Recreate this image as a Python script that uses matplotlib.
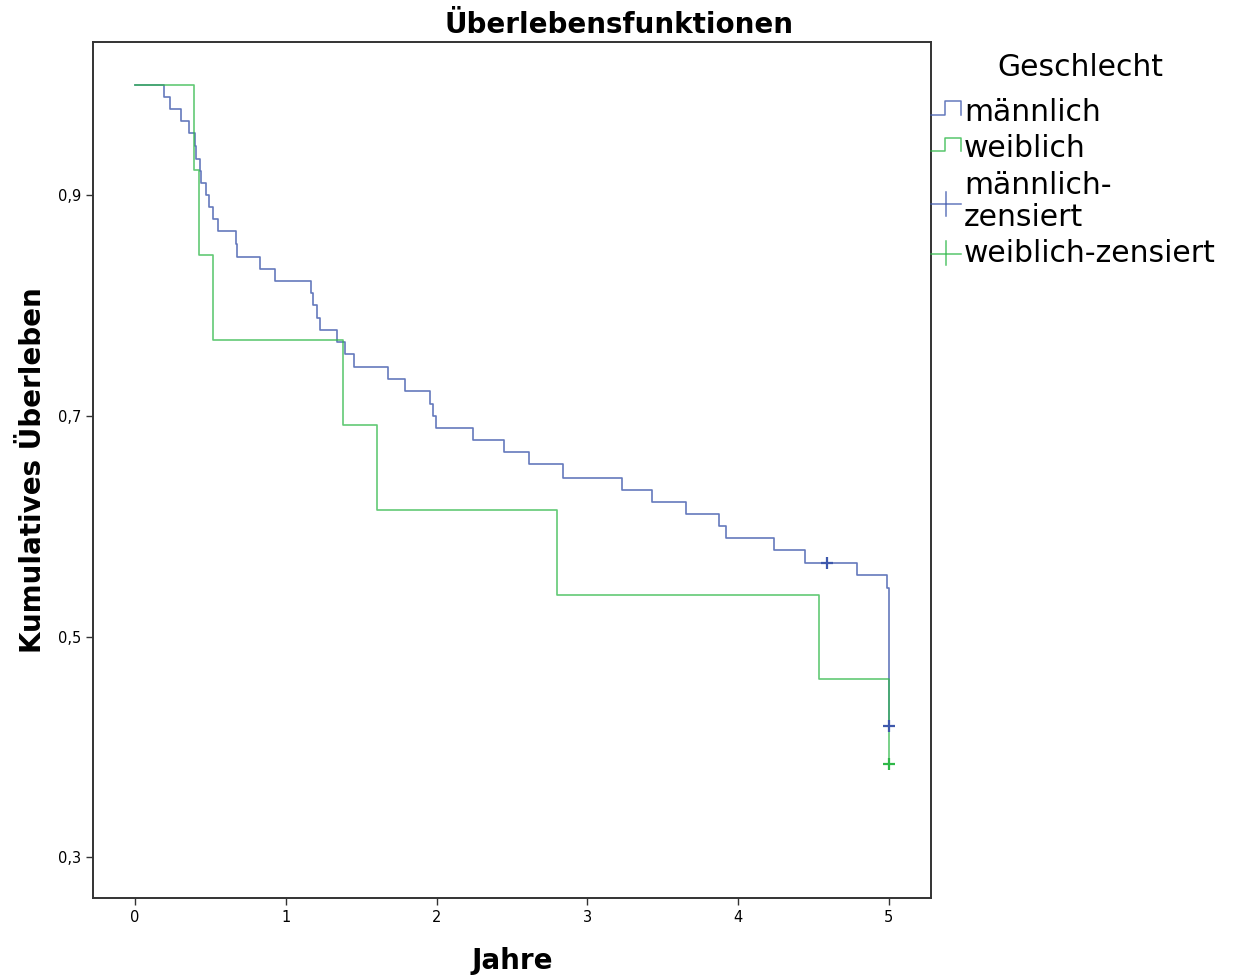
import matplotlib.pyplot as plt
from matplotlib.lines import Line2D
from matplotlib.legend_handler import HandlerBase

# Kaplan-Meier Schätzer, Stufen nach Geschlecht
t_maennlich = [0, 0.190, 0.232, 0.307, 0.358, 0.400, 0.405, 0.433, 0.437, 0.471,
               0.488, 0.515, 0.548, 0.672, 0.678, 0.825, 0.928, 1.167, 1.182, 1.209,
               1.227, 1.337, 1.393, 1.452, 1.680, 1.790, 1.956, 1.978, 1.996, 2.239,
               2.449, 2.613, 2.840, 3.227, 3.426, 3.652, 3.875, 3.917, 4.237, 4.447,
               4.792, 4.990, 5.000]
s_maennlich = [1.000, 0.989, 0.978, 0.967, 0.956, 0.944, 0.933, 0.922, 0.911, 0.900,
               0.889, 0.878, 0.867, 0.856, 0.844, 0.833, 0.822, 0.811, 0.800, 0.789,
               0.778, 0.767, 0.756, 0.744, 0.733, 0.722, 0.711, 0.700, 0.689, 0.678,
               0.667, 0.656, 0.644, 0.633, 0.622, 0.611, 0.600, 0.589, 0.578, 0.567,
               0.556, 0.544, 0.419]

t_weiblich = [0, 0.392, 0.424, 0.515, 1.381, 1.605, 2.798, 4.538, 5.000]
s_weiblich = [1.000, 0.923, 0.846, 0.769, 0.692, 0.615, 0.538, 0.462, 0.385]

# zensierte Fälle
zens_t_maennlich = [4.591, 5.000]
zens_s_maennlich = [0.567, 0.419]
zens_t_weiblich = [5.000]
zens_s_weiblich = [0.385]

y_ticks = [0.3, 0.5, 0.7, 0.9]
y_ticklabels = ['0,3', '0,5', '0,7', '0,9']
x_ticks = [0, 1, 2, 3, 4, 5]

blau = '#3e58ac'
gruen = '#2eb848'


class StufenHandler(HandlerBase):
    # kleines Treppensymbol wie im SPSS-Diagramm
    def create_artists(self, legend, orig_handle, xdescent, ydescent,
                       width, height, fontsize, trans):
        x0 = -xdescent
        x1 = x0 + width
        xm = x0 + width * 0.48
        y0 = -ydescent + height * 0.3
        y1 = -ydescent + height * 0.95
        ln = Line2D([x0, xm, xm, x1, x1], [y0, y0, y1, y1, y0],
                    color=orig_handle.get_color(), lw=1.1, alpha=0.8,
                    transform=trans)
        return [ln]


class ZensiertHandler(HandlerBase):
    def create_artists(self, legend, orig_handle, xdescent, ydescent,
                       width, height, fontsize, trans):
        x0 = -xdescent
        x1 = x0 + width
        xm = x0 + width * 0.5
        ym = -ydescent + height * 0.4
        h = Line2D([x0, x1], [ym, ym], color=orig_handle.get_color(), lw=1.1,
                   alpha=0.8, transform=trans)
        v = Line2D([xm, xm], [ym - height * 0.55, ym + height * 0.6],
                   color=orig_handle.get_color(), lw=1.1, alpha=0.8,
                   transform=trans)
        return [h, v]


fig = plt.figure(figsize=(12.38, 9.77), dpi=100)
ax = fig.add_axes([0.0751, 0.0809, 0.6769, 0.8761])

l_m, = ax.step(t_maennlich, s_maennlich, where='post', color=blau, lw=1.2, alpha=0.8)
l_w, = ax.step(t_weiblich, s_weiblich, where='post', color=gruen, lw=1.2, alpha=0.75)
z_m, = ax.plot(zens_t_maennlich, zens_s_maennlich, ls='none', marker='+',
               ms=8, mew=1.6, color=blau)
z_w, = ax.plot(zens_t_weiblich, zens_s_weiblich, ls='none', marker='+',
               ms=8, mew=1.6, color=gruen)

ax.set_xlim(-0.28, 5.28)
ax.set_ylim(0.2632, 1.0386)
ax.set_xticks(x_ticks)
ax.set_xticklabels([str(v) for v in x_ticks])
ax.set_yticks(y_ticks)
ax.set_yticklabels(y_ticklabels)
ax.tick_params(labelsize=10.5, length=5, width=1, color='#333333')

for sp in ax.spines.values():
    sp.set_linewidth(1.4)
    sp.set_color('#333333')

fig.text(0.5, 1 - 25 / 977, 'Überlebensfunktionen', fontsize=20, fontweight='bold',
         ha='center', va='center')
ax.set_xlabel('Jahre', fontsize=20, fontweight='bold', labelpad=16)
ax.set_ylabel('Kumulatives Überleben', fontsize=20, fontweight='bold', labelpad=8)

# Legendentitel separat, damit der Abstand zu den Einträgen stimmt
fig.text(1080 / 1238, 1 - 67 / 977, 'Geschlecht', fontsize=21.5,
         ha='center', va='center')
leg = ax.legend([l_m, l_w, z_m, z_w],
                ['männlich', 'weiblich', 'männlich-\nzensiert', 'weiblich-zensiert'],
                handler_map={l_m: StufenHandler(), l_w: StufenHandler(),
                             z_m: ZensiertHandler(), z_w: ZensiertHandler()},
                fontsize=21.5, loc='upper left', bbox_to_anchor=(1.0, 1 - 56 / 856),
                borderaxespad=0, borderpad=0, frameon=False, handlelength=1.0,
                handletextpad=0.1, labelspacing=0.25)
leg.get_texts()[2].set_linespacing(1.12)

fig.savefig('out.png', dpi=100)
